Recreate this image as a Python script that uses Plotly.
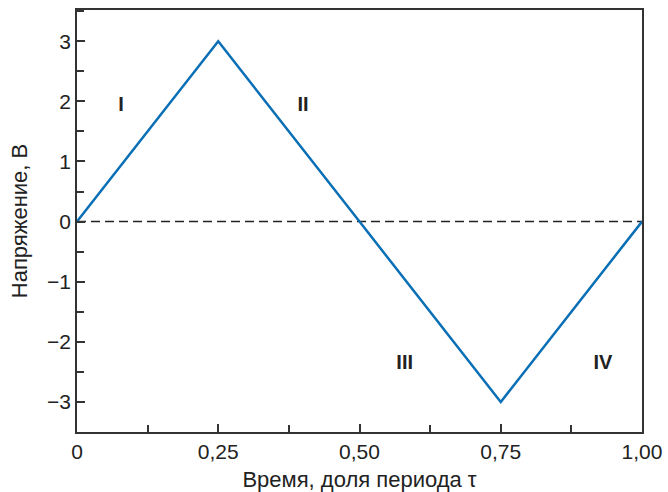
import plotly.graph_objects as go

t = [0, 0.25, 0.5, 0.75, 1.0]
u = [0, 3, 0, -3, 0]
zero_x = [0, 1.0]
zero_y = [0, 0]
labels = ["I", "II", "III", "IV"]
label_x = [0.078, 0.40, 0.58, 0.931]
label_y = [1.93, 1.93, -2.37, -2.37]
xtick_vals = [0, 0.25, 0.5, 0.75, 1.0]
xtick_text = ["0", "0,25", "0,50", "0,75", "1,00"]
ytick_vals = [-3, -2, -1, 0, 1, 2, 3]
ytick_text = ["\u22123", "\u22122", "\u22121", "0", "1", "2", "3"]

font = "Liberation Sans, Arial, sans-serif"
txt = "#222222"
ax = "#333333"

fig = go.Figure()
fig.add_trace(go.Scatter(x=zero_x, y=zero_y, mode="lines",
                         line=dict(color="#222222", width=1.5, dash="9px,5px"),
                         hoverinfo="skip", showlegend=False))
fig.add_trace(go.Scatter(x=t, y=u, mode="lines",
                         line=dict(color="#0a6fb5", width=2.5),
                         showlegend=False))
fig.add_trace(go.Scatter(x=label_x, y=label_y, mode="text", text=labels,
                         textfont=dict(family=font, size=20, color=txt, weight="bold"),
                         showlegend=False, hoverinfo="skip"))

axis_common = dict(showgrid=False, zeroline=False, showline=True, linecolor=ax,
                   linewidth=1.5, mirror=True, ticks="inside", ticklen=8, tickwidth=1.5,
                   tickcolor=ax, tickfont=dict(family=font, size=21, color=txt),
                   automargin=False)

fig.update_xaxes(range=[0, 1.0], tickvals=xtick_vals, ticktext=xtick_text,
                 minor=dict(ticks="inside", dtick=0.125, tick0=0, ticklen=7, tickwidth=1.5, tickcolor=ax),
                 title=dict(text="Время, доля периода τ", font=dict(family=font, size=22, color=txt), standoff=11),
                 **axis_common)
fig.update_yaxes(range=[-3.5, 3.52], tickvals=ytick_vals, ticktext=ytick_text,
                 minor=dict(ticks="inside", dtick=0.5, tick0=0, ticklen=7, tickwidth=1.5, tickcolor=ax),
                 title=dict(text="Напряжение, В", font=dict(family=font, size=22, color=txt), standoff=13),
                 **axis_common)

fig.update_layout(width=668, height=492, margin=dict(l=77, r=26, t=10, b=60),
                  plot_bgcolor="white", paper_bgcolor="white")

fig.write_html("out.html", config={"displayModeBar": False},
               post_script="document.body.style.margin='0';")
